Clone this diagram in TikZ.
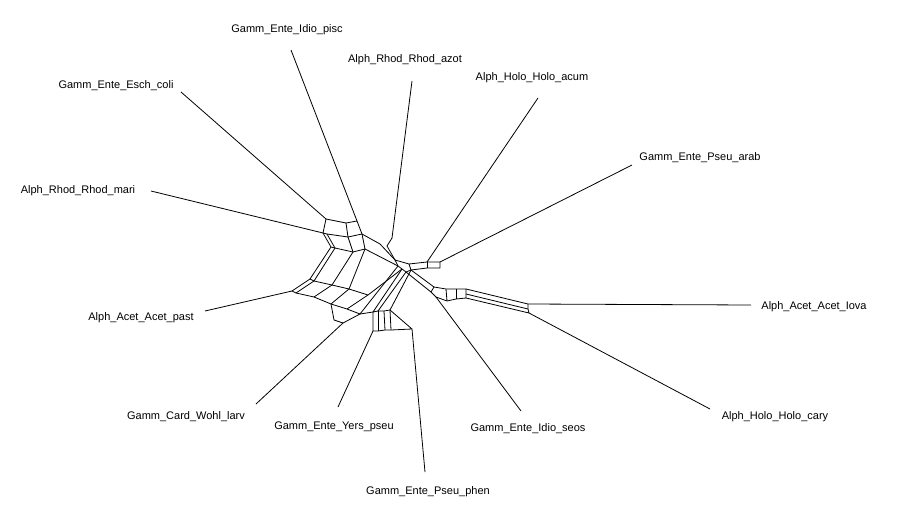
\documentclass[tikz,border=0pt]{standalone}
\usepackage{fontspec}
\setmainfont{Liberation Sans}
\begin{document}
\begin{tikzpicture}[x=1pt,y=-1pt,
  taxon/.style={font=\fontsize{11}{13}\selectfont,inner sep=0pt},
  split/.style={line width=0.8pt,line join=round}]
\useasboundingbox (0,0) rectangle (900,522);

% --- taxon labels ---
\node[taxon] (pisc) at (287,30)  {Gamm\_Ente\_Idio\_pisc};
\node[taxon] (azot) at (405,60)  {Alph\_Rhod\_Rhod\_azot};
\node[taxon] (acum) at (532,78)  {Alph\_Holo\_Holo\_acum};
\node[taxon] (arab) at (700,158) {Gamm\_Ente\_Pseu\_arab};
\node[taxon] (lova) at (814,307) {Alph\_Acet\_Acet\_Iova};
\node[taxon] (cary) at (775,417) {Alph\_Holo\_Holo\_cary};
\node[taxon] (seos) at (528,429) {Gamm\_Ente\_Idio\_seos};
\node[taxon] (phen) at (428,492) {Gamm\_Ente\_Pseu\_phen};
\node[taxon] (yers) at (334,427) {Gamm\_Ente\_Yers\_pseu};
\node[taxon] (wohl) at (186,417) {Gamm\_Card\_Wohl\_larv};
\node[taxon] (past) at (141,318) {Alph\_Acet\_Acet\_past};
\node[taxon] (mari) at (78,191)  {Alph\_Rhod\_Rhod\_mari};
\node[taxon] (esch) at (116,86)  {Gamm\_Ente\_Esch\_coli};

% --- leaf tips ---
\coordinate (tpisc) at (291,50);
\coordinate (tazot) at (412,81);
\coordinate (tacum) at (538,98);
\coordinate (tarab) at (632,165);
\coordinate (tlova) at (751,305);
\coordinate (tcary) at (710,409);
\coordinate (tseos) at (521,411);
\coordinate (tphen) at (425,472);
\coordinate (tyers) at (338,407);
\coordinate (twohl) at (256,404);
\coordinate (tpast) at (205,311);
\coordinate (tmari) at (151,191);
\coordinate (tesch) at (181,92);

% --- inner vertices: top-left block ---
\coordinate (E0) at (326,219);
\coordinate (ta) at (346,223);
\coordinate (I0) at (357,221);
\coordinate (M0) at (323,233);
\coordinate (tb) at (327,234);
\coordinate (tc) at (348,237);
\coordinate (td) at (362,234);
\coordinate (te) at (331,247);
\coordinate (tf) at (335,248);
\coordinate (tg) at (353,252);
\coordinate (th) at (365,249);
% hub
\coordinate (Z0) at (392,238);
\coordinate (z1) at (387,246);
\coordinate (u1) at (380,244);
\coordinate (h1) at (395,260);
\coordinate (h2) at (409,264);
\coordinate (h3) at (411,270);
\coordinate (h4) at (398,266);
\coordinate (h5) at (402,269);
\coordinate (h6) at (406,272);
\coordinate (H0) at (427,262);
\coordinate (R0) at (440,262);
\coordinate (r2) at (427,268);
\coordinate (r3) at (440,268);
% left web
\coordinate (la) at (310,279);
\coordinate (lb) at (314,281);
\coordinate (A0) at (292,291);
\coordinate (ld) at (296,293);
\coordinate (m1) at (332,285);
\coordinate (m2) at (349,289);
\coordinate (m3) at (368,295);
\coordinate (n1) at (314,297);
\coordinate (n2) at (331,304);
\coordinate (n3) at (347,309);
\coordinate (n4) at (360,314);
\coordinate (w1) at (334,320);
\coordinate (W0) at (343,323);
% bottom block
\coordinate (b1) at (373,312);
\coordinate (b2) at (378,311);
\coordinate (b3) at (384,311);
\coordinate (b4) at (390,310);
\coordinate (b5) at (373,331);
\coordinate (b6) at (378,331);
\coordinate (b7) at (385,330);
\coordinate (b8) at (391,330);
\coordinate (P0) at (412,329);
% right block and tail
\coordinate (q1) at (434,287);
\coordinate (q2) at (431,292);
\coordinate (q3) at (436,297);
\coordinate (q4) at (446,289);
\coordinate (q5) at (456,289);
\coordinate (q6) at (466,289);
\coordinate (q7) at (466,298);
\coordinate (q8) at (456,299);
\coordinate (q9) at (447,301);
\coordinate (q6b) at (466,294);
\coordinate (L0) at (528,304);
\coordinate (L1) at (528,309);
\coordinate (C0) at (529,313);

% --- pendant edges ---
\draw[split] (tpisc) -- (I0);
\draw[split] (tazot) -- (Z0);
\draw[split] (tacum) -- (H0);
\draw[split] (tarab) -- (R0);
\draw[split] (tlova) -- (L0);
\draw[split] (tcary) -- (C0);
\draw[split] (tseos) -- (q3);
\draw[split] (tphen) -- (P0);
\draw[split] (tyers) -- (b5);
\draw[split] (twohl) -- (W0);
\draw[split] (tpast) -- (A0);
\draw[split] (tmari) -- (M0);
\draw[split] (tesch) -- (E0);

% --- splits network ---
\draw[split] (E0) -- (ta) -- (I0) -- (td) -- (th);
\draw[split] (E0) -- (M0) -- (tb) -- (tc) -- (td);
\draw[split] (ta) -- (tc) -- (tg);
\draw[split] (M0) -- (te) -- (tf) -- (tg) -- (th);
\draw[split] (tb) -- (tf);
\draw[split] (td) -- (u1) -- (h1);
\draw[split] (Z0) -- (z1) -- (h1);
\draw[split] (th) -- (h4);
\draw[split] (h1) -- (h2) -- (h3) -- (h6) -- (h5) -- (h4) -- (h1);
\draw[split] (h2) -- (H0) -- (R0) -- (r3) -- (r2) -- (h3);
\draw[split] (H0) -- (r2);
\draw[split] (te) -- (la) -- (lb) -- (tf);
\draw[split] (la) -- (A0) -- (ld) -- (lb);
\draw[split] (lb) -- (m1) -- (m2) -- (m3) -- (h5);
\draw[split] (ld) -- (n1) -- (n2) -- (n3) -- (n4) -- (b1);
\draw[split] (tg) -- (m1) -- (n1);
\draw[split] (th) -- (m2) -- (n2);
\draw[split] (m3) -- (n3);
\draw[split] (h4) -- (n4);
\draw[split] (n2) -- (w1) -- (W0) -- (n4);
\draw[split] (h5) -- (b1);
\draw[split] (h6) -- (b2);
\draw[split] (h3) -- (b4);
\draw[split] (b1) -- (b2) -- (b3) -- (b4) -- (P0) -- (b8) -- (b7) -- (b6) -- (b5) -- (b1);
\draw[split] (b2) -- (b6);
\draw[split] (b3) -- (b7);
\draw[split] (b4) -- (b8);
\draw[split] (h3) -- (q1) -- (q2) -- (h6);
\draw[split] (q1) -- (q4) -- (q5) -- (q6) -- (q6b) -- (q7) -- (q8) -- (q9) -- (q3) -- (q2);
\draw[split] (q4) -- (q9);
\draw[split] (q5) -- (q8);
\draw[split] (q6) -- (L0) -- (L1) -- (C0) -- (q7);
\draw[split] (q6b) -- (L1);
\end{tikzpicture}
\end{document}
